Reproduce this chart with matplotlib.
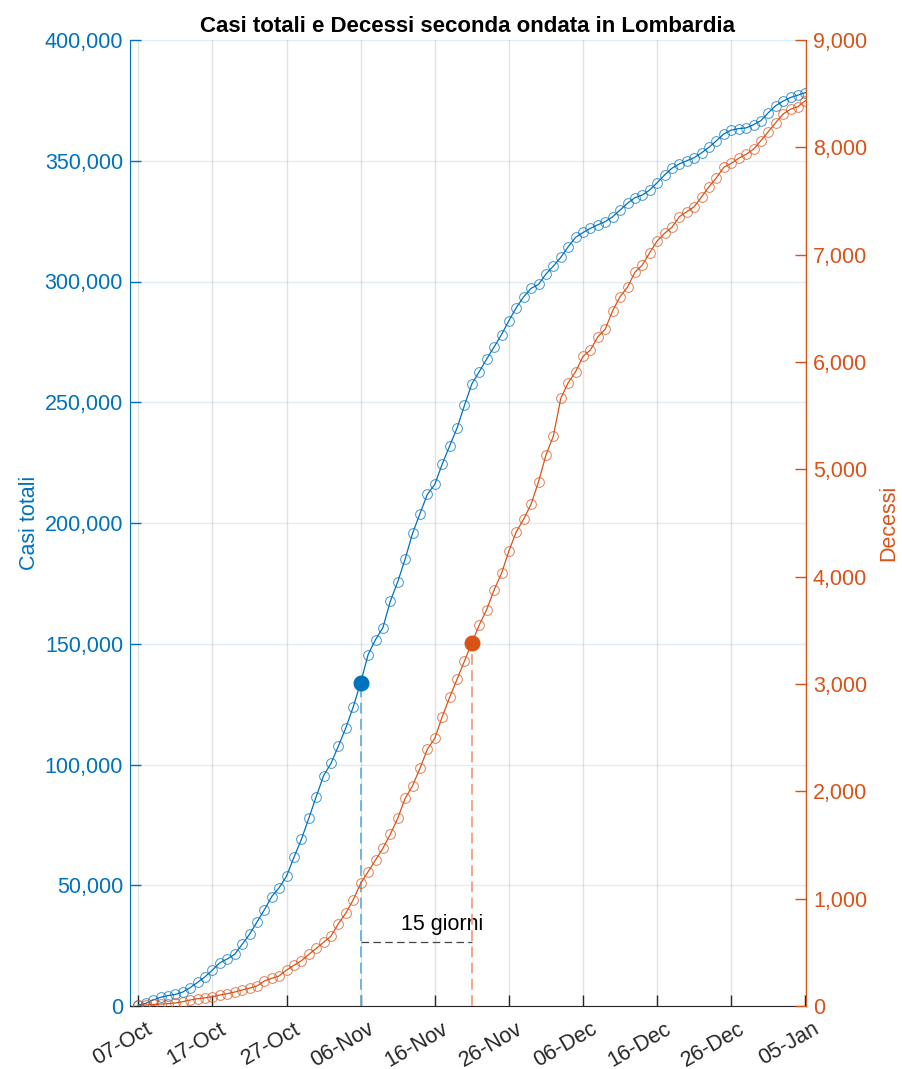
import numpy as np
import pandas as pd
import matplotlib
matplotlib.use("Agg")
import matplotlib.pyplot as plt
import matplotlib.dates as mdates
import matplotlib.transforms as mtransforms
from matplotlib.ticker import FuncFormatter, MultipleLocator

plt.rcParams['font.family'] = ['Liberation Sans', 'DejaVu Sans']

# dati: seconda ondata Lombardia, valori a partire dal 07-Oct
giorni = pd.date_range("2020-10-07", "2021-01-05", freq="D")

casi_totali = [
    400, 1100, 2500, 3600, 4300, 4800, 5800, 7600, 9800, 12100,
    14900, 17900, 19500, 21400, 25500, 29700, 34700, 39800, 45300, 49000,
    53800, 61600, 69000, 77700, 86700, 95400, 100500, 107700, 115200, 123900,
    133900, 145500, 151700, 156700, 167600, 175700, 185100, 195700, 203900, 211900,
    216000, 224400, 231900, 239300, 248700, 257600, 262700, 267900, 272900, 278000,
    283800, 289200, 293700, 297200, 298800, 303100, 306400, 310000, 314400, 318300,
    320300, 322000, 323500, 324800, 326800, 329600, 332400, 334700, 335800, 337900,
    340900, 344100, 346900, 348700, 350000, 351300, 353300, 355600, 358300, 361100,
    362700, 363300, 363600, 364900, 366600, 369900, 372800, 374700, 376200, 377200,
    378200,
]

decessi = [
    5, 10, 14, 18, 22, 28, 40, 56, 68, 76,
    87, 102, 115, 130, 149, 166, 186, 233, 258, 280,
    335, 379, 422, 481, 537, 593, 652, 768, 866, 990,
    1143, 1251, 1360, 1469, 1600, 1749, 1935, 2053, 2215, 2392,
    2494, 2695, 2876, 3044, 3214, 3385, 3550, 3693, 3876, 4031,
    4239, 4419, 4537, 4677, 4885, 5134, 5311, 5662, 5807, 5910,
    6053, 6112, 6236, 6306, 6478, 6609, 6697, 6836, 6904, 7019,
    7127, 7199, 7255, 7354, 7400, 7447, 7540, 7633, 7717, 7814,
    7851, 7898, 7935, 7982, 8062, 8146, 8230, 8311, 8355, 8379,
    8435,
]

giorno_casi = pd.Timestamp("2020-11-06")
giorno_decessi = pd.Timestamp("2020-11-21")
ritardo = "15 giorni"

blu = '#0072BD'
arancio = '#D95319'
grigio = '#262626'

casi = pd.Series(casi_totali, index=giorni)
dec = pd.Series(decessi, index=giorni)

fig = plt.figure(figsize=(9.02, 10.69), dpi=100)
ax = fig.add_axes([130/902, 63/1069, 676/902, 966/1069])
ax2 = ax.twinx()

ax.plot(giorni, casi.values, '-', color=blu, lw=0.9, marker='o', ms=7,
        mfc='none', mec=(0.0, 0.447, 0.741, 0.75), mew=0.7, zorder=3)
ax2.plot(giorni, dec.values, '-', color=arancio, lw=0.9, marker='o', ms=7,
         mfc='none', mec=(0.85, 0.325, 0.098, 0.75), mew=0.7, zorder=3)

# punti evidenziati e linee tratteggiate
yc = casi[giorno_casi]
yd = dec[giorno_decessi]
ax.plot([giorno_casi, giorno_casi], [0, yc], '--', color='#6aaee0', lw=1.3, dashes=(6, 3), zorder=4)
ax.plot([giorno_casi], [yc], 'o', color=blu, ms=10.5, zorder=5)
ax2.plot([giorno_decessi, giorno_decessi], [0, yd], '--', color='#f0a07c', lw=1.3, dashes=(6, 3), zorder=4)
ax2.plot([giorno_decessi], [yd], 'o', color=arancio, ms=10.5, zorder=5)

y_freccia = 26500
ax.plot([giorno_casi, giorno_decessi], [y_freccia, y_freccia], '--', color='#444444', lw=0.9, dashes=(6, 3.5), zorder=4)
ax.text(giorno_casi + pd.Timedelta(days=11), 33800, ritardo, ha='center', va='center', fontsize=15.5, color='k')

# assi
ax.set_xlim(pd.Timestamp("2020-10-07") - pd.Timedelta(hours=27), pd.Timestamp("2021-01-05") + pd.Timedelta(hours=2))
ax.set_ylim(0, 400000)
ax2.set_ylim(0, 9000)
ax.set_xticks(pd.date_range("2020-10-07", "2021-01-05", freq="10D"))
ax.xaxis.set_major_formatter(mdates.DateFormatter('%d-%b'))
ax.yaxis.set_major_locator(MultipleLocator(50000))
ax2.yaxis.set_major_locator(MultipleLocator(1000))
fmt = FuncFormatter(lambda v, p: f"{int(v):,}")
ax.yaxis.set_major_formatter(fmt)
ax2.yaxis.set_major_formatter(fmt)

ax.tick_params(axis='x', direction='in', length=8, width=1, colors=grigio, labelsize=15.5, pad=9)
ax.tick_params(axis='y', direction='in', length=8, width=1, colors=blu, labelsize=15.5, pad=5)
ax2.tick_params(axis='y', direction='in', length=8, width=1, colors=arancio, labelsize=15.5, pad=5)

sposta = mtransforms.ScaledTranslation(7/100, 0, fig.dpi_scale_trans)
for lab in ax.get_xticklabels():
    lab.set_rotation(30)
    lab.set_ha('right')
    lab.set_rotation_mode('anchor')
    lab.set_transform(lab.get_transform() + sposta)

ax.grid(True, axis='x', color=grigio, alpha=0.13, lw=1)
ax.grid(True, axis='y', color=blu, alpha=0.12, lw=1)
ax.set_axisbelow(True)

for a in (ax, ax2):
    a.spines['top'].set_visible(False)
ax.spines['left'].set_color(blu)
ax2.spines['left'].set_visible(False)
ax2.spines['right'].set_color(arancio)
ax.spines['right'].set_visible(False)
ax.spines['bottom'].set_color(grigio)
ax2.spines['bottom'].set_visible(False)

ax.set_ylabel('Casi totali', color=blu, fontsize=15.5, labelpad=3)
ax2.set_ylabel('Decessi', color=arancio, fontsize=15.5, labelpad=8)
ax.set_title('Casi totali e Decessi seconda ondata in Lombardia', fontsize=16, fontweight='bold', pad=6)

fig.savefig('out.png', dpi=100)
